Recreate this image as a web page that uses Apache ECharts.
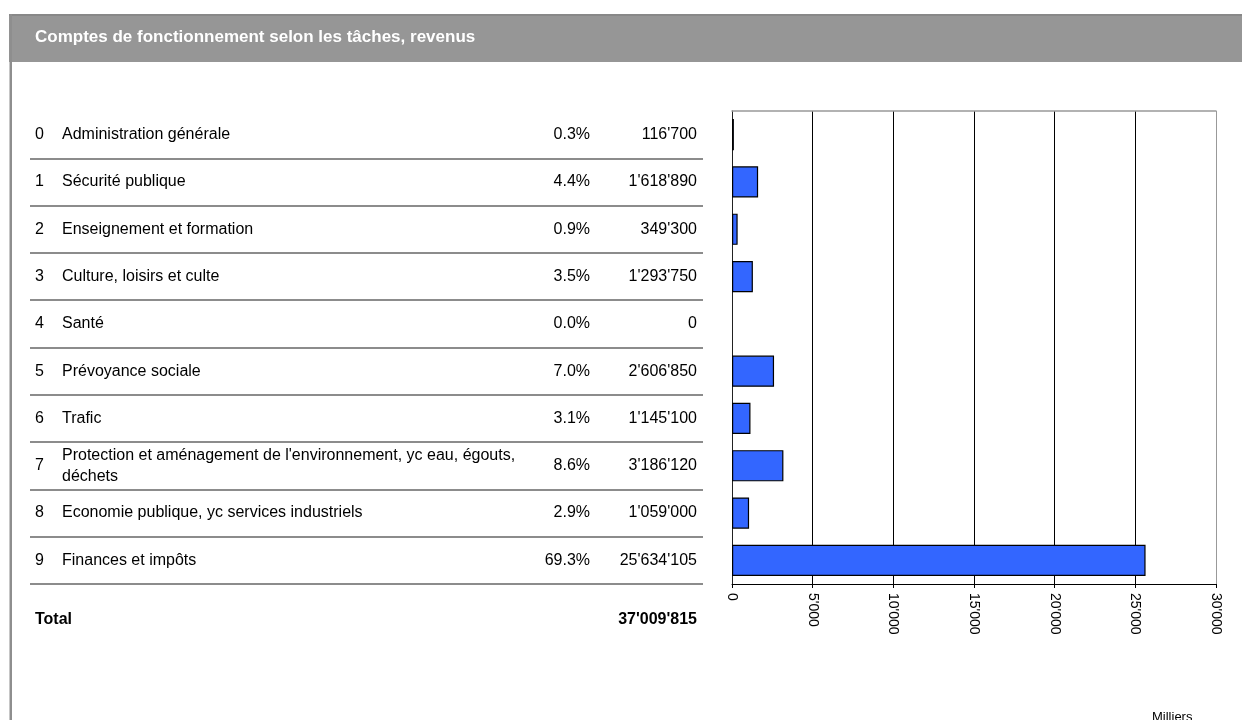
<!DOCTYPE html>
<html>
<head>
<meta charset="utf-8">
<script src="https://cdn.jsdelivr.net/npm/echarts@6/dist/echarts.min.js"></script>
<style>
html,body{margin:0;padding:0;background:#fff;}
#chart{width:1242px;height:720px;}
</style>
</head>
<body>
<div id="chart"></div>
<script>
const codes = ['0', '1', '2', '3', '4', '5', '6', '7', '8', '9'];
const categories = [
  'Administration générale',
  'Sécurité publique',
  'Enseignement et formation',
  'Culture, loisirs et culte',
  'Santé',
  'Prévoyance sociale',
  'Trafic',
  "Protection et aménagement de l'environnement, yc eau, égouts,\ndéchets",
  'Economie publique, yc services industriels',
  'Finances et impôts'
];
const amounts = [116700, 1618890, 349300, 1293750, 0, 2606850, 1145100, 3186120, 1059000, 25634105];
const shares = ['0.3%', '4.4%', '0.9%', '3.5%', '0.0%', '7.0%', '3.1%', '8.6%', '2.9%', '69.3%'];
const total = 37009815;
const axisMin = 0, axisMax = 30000, axisStep = 5000;
const titleText = 'Comptes de fonctionnement selon les tâches, revenus';
const unitText = 'Milliers';
const totalLabel = 'Total';

const FONT = "'Liberation Sans', Arial, sans-serif";
const TFS = 16;
function fmt(n) { return String(n).replace(/\B(?=(\d{3})+(?!\d))/g, "'"); }
const barData = amounts.map(v => v === 0 ? {value: 0, itemStyle: {borderWidth: 0}} : v / 1000);

const chart = echarts.init(document.getElementById('chart'), null, {renderer: 'canvas'});
const GTOP = 111, GBOT = 136;
const option = {
  animation: false,
  backgroundColor: '#ffffff',
  textStyle: {fontFamily: FONT},
  grid: [
    {left: 732, right: 26, top: GTOP, bottom: GBOT, containLabel: false},
    {left: 30, right: 539, top: GTOP, bottom: GBOT, containLabel: false}
  ],
  xAxis: [
    {
      gridIndex: 0, type: 'value', position: 'bottom', min: axisMin, max: axisMax, interval: axisStep,
      axisLine: {show: true, onZero: false, lineStyle: {color: '#000', width: 1}},
      axisTick: {show: true, length: 4, lineStyle: {color: '#000'}},
      axisLabel: {rotate: -90, margin: 9, color: '#000', fontSize: 14, fontFamily: FONT, formatter: v => fmt(v)},
      splitLine: {show: true, lineStyle: {color: ['#000', '#000', '#000', '#000', '#000', '#000', '#999'], width: 1}}
    },
    {
      gridIndex: 0, type: 'value', position: 'top', min: axisMin, max: axisMax, interval: axisStep,
      axisLine: {show: true, onZero: false, lineStyle: {color: '#999', width: 1.5}},
      axisTick: {show: false}, axisLabel: {show: false}, splitLine: {show: false}
    },
    {gridIndex: 1, type: 'value', min: 0, max: 1, show: false}
  ],
  yAxis: [
    {
      gridIndex: 0, type: 'category', inverse: true, data: codes,
      axisLine: {show: true, lineStyle: {color: '#222', width: 1}},
      axisTick: {show: false}, axisLabel: {show: false}, splitLine: {show: false}
    },
    {
      gridIndex: 1, type: 'category', inverse: true, data: codes, position: 'left',
      axisLine: {show: false}, axisTick: {show: false},
      axisLabel: {inside: true, margin: 5, color: '#000', fontSize: TFS, fontFamily: FONT, formatter: (v, i) => codes[i]},
      splitLine: {show: true, showMinLine: false, showMaxLine: true, lineStyle: {color: '#8c8c8c', width: 2}}
    },
    {
      gridIndex: 1, type: 'category', inverse: true, data: codes, position: 'left', offset: -27,
      axisLine: {show: false}, axisTick: {show: false}, splitLine: {show: false},
      axisLabel: {inside: true, margin: 5, color: '#000', fontSize: TFS, lineHeight: 21, fontFamily: FONT, formatter: (v, i) => categories[i]}
    },
    {
      gridIndex: 1, type: 'category', inverse: true, data: codes, position: 'right', offset: -113,
      axisLine: {show: false}, axisTick: {show: false}, splitLine: {show: false},
      axisLabel: {inside: true, margin: 0, color: '#000', fontSize: TFS, fontFamily: FONT, formatter: (v, i) => shares[i]}
    },
    {
      gridIndex: 1, type: 'category', inverse: true, data: codes, position: 'right', offset: 0,
      axisLine: {show: false}, axisTick: {show: false}, splitLine: {show: false},
      axisLabel: {inside: true, margin: 6, color: '#000', fontSize: TFS, fontFamily: FONT, formatter: (v, i) => fmt(amounts[i])}
    }
  ],
  series: [
    {
      type: 'bar', xAxisIndex: 0, yAxisIndex: 0, data: barData, barWidth: '66%',
      itemStyle: {color: '#3366FF', borderColor: '#000', borderWidth: 1.2},
      silent: true
    },
    {
      type: 'bar', xAxisIndex: 2, yAxisIndex: 1, data: codes.map(() => 0), silent: true,
      itemStyle: {color: 'rgba(0,0,0,0)'}
    }
  ],
  graphic: [
    {type: 'rect', shape: {x: 9, y: 14, width: 1233, height: 48}, style: {fill: '#969696'}, silent: true},
    {type: 'rect', shape: {x: 9, y: 14, width: 1233, height: 2}, style: {fill: '#888888'}, silent: true},
    {type: 'rect', shape: {x: 9.5, y: 14, width: 2.5, height: 706}, style: {fill: '#8e8e8e'}, silent: true},
    {type: 'text', left: 35, top: 29, style: {text: titleText, fill: '#ffffff', font: 'bold 17px ' + FONT}, silent: true},
    {type: 'text', left: 35, top: 612, style: {text: totalLabel, fill: '#000', font: 'bold ' + TFS + 'px ' + FONT}, silent: true},
    {type: 'text', right: 1242 - 697, top: 612, style: {text: fmt(total), fill: '#000', font: 'bold ' + TFS + 'px ' + FONT, textAlign: 'right'}, silent: true},
    {type: 'text', left: 1152, top: 711, style: {text: unitText, fill: '#000', font: '13px ' + FONT}, silent: true}
  ]
};
chart.setOption(option);
</script>
</body>
</html>
